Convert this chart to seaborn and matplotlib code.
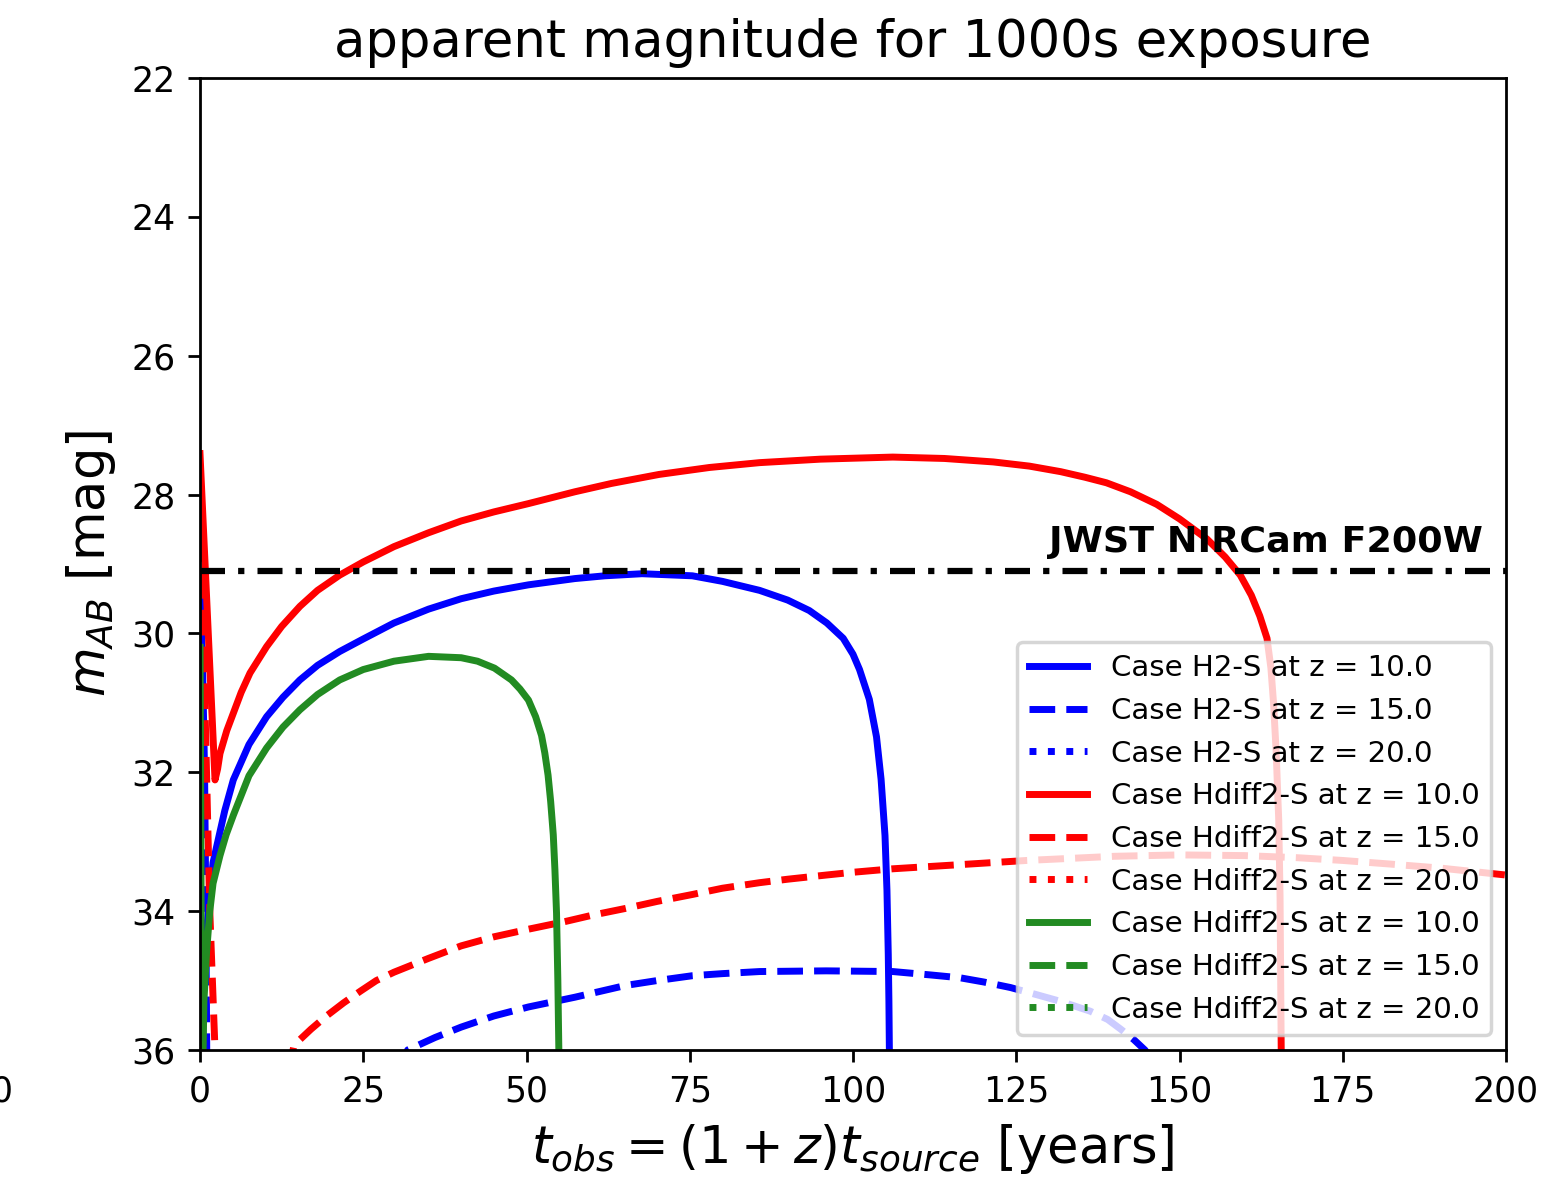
import matplotlib
matplotlib.use("Agg")
import matplotlib.pyplot as plt
import seaborn as sns

# ---------------- data ----------------
# Case H2-S, z = 10 (blue solid)
t_h2_z10 = [0.3, 0.6, 1.0, 1.5, 2.0, 2.55, 3.8, 5.1, 7.5, 10.2, 12.7, 15.3, 18.0, 21.4, 25.0,
            29.7, 35.0, 40.0, 45.0, 50.3, 57.4, 62.0, 67.7, 75.4, 80.0, 85.7, 90.0, 93.3, 96.0,
            98.5, 100.0, 101.0, 102.5, 103.6, 104.3, 104.9, 105.2, 105.4, 105.5, 105.6]
m_h2_z10 = [36.3, 34.9, 34.3, 33.75, 33.3, 33.07, 32.55, 32.11, 31.6, 31.2, 30.92, 30.67, 30.46,
            30.26, 30.08, 29.85, 29.65, 29.5, 29.39, 29.3, 29.21, 29.17, 29.14, 29.17, 29.25,
            29.38, 29.52, 29.67, 29.85, 30.07, 30.3, 30.52, 30.95, 31.49, 32.1, 32.91, 33.7,
            34.62, 35.3, 36.3]

# Case H2-S, z = 15 (blue dashed)
t_h2_z15 = [0.05, 0.4, 0.7, 0.9, 1.05, 3.0, 15.0, 28.0, 31.8, 36.0, 40.0, 45.0, 50.3, 57.4,
            65.2, 70.0, 75.4, 80.0, 85.7, 95.9, 106.1, 112.0, 116.4, 120.0, 124.1, 128.0, 131.8,
            136.3, 139.0, 141.0, 143.0, 144.7, 147.0]
m_h2_z15 = [29.4, 30.5, 32.0, 34.0, 36.3, 39.0, 40.0, 37.5, 36.0, 35.82, 35.67, 35.51, 35.38,
            35.24, 35.07, 35.0, 34.93, 34.9, 34.87, 34.86, 34.87, 34.92, 34.96, 35.02, 35.1, 35.2,
            35.3, 35.44, 35.56, 35.7, 35.85, 36.0, 36.3]

# Case H2-S, z = 20 (blue dotted) - below the plotted range
t_h2_z20 = [0.0, 0.3, 0.6]
m_h2_z20 = [36.5, 38.0, 40.0]

# Case Hdiff2-S, z = 10 (red solid)
t_hd_z10 = [0.0, 2.3, 2.7, 3.06, 4.1, 5.1, 6.3, 7.66, 10.2, 12.5, 15.3, 18.0, 21.4, 25.0, 29.7,
            35.0, 40.0, 45.0, 50.3, 57.4, 63.0, 70.3, 78.0, 85.7, 95.0, 106.1, 114.0, 121.5,
            127.0, 131.8, 135.5, 138.8, 142.5, 146.5, 150.0, 154.2, 157.0, 159.3, 161.0, 162.3,
            163.4, 164.0, 164.4, 164.8, 165.2, 165.4, 165.6]
m_hd_z10 = [27.41, 32.11, 31.95, 31.73, 31.4, 31.15, 30.85, 30.57, 30.19, 29.9, 29.61, 29.38,
            29.16, 28.97, 28.75, 28.55, 28.38, 28.25, 28.13, 27.96, 27.84, 27.71, 27.61, 27.54,
            27.49, 27.46, 27.48, 27.53, 27.59, 27.67, 27.75, 27.83, 27.96, 28.14, 28.35, 28.64,
            28.9, 29.16, 29.45, 29.75, 30.07, 30.5, 31.0, 31.7, 32.7, 33.8, 36.3]

# Case Hdiff2-S, z = 15 (red dashed)
t_hd_z15 = [0.05, 0.5, 1.0, 1.5, 2.3, 2.7, 6.0, 11.0, 14.4, 17.0, 19.5, 22.0, 24.6, 27.0, 29.7,
            35.0, 40.0, 45.0, 50.3, 55.9, 60.0, 65.2, 70.0, 75.4, 80.0, 85.7, 90.0, 95.9, 100.0,
            106.1, 116.4, 126.6, 140.0, 150.0, 160.0, 168.0, 175.0, 182.0, 190.0, 200.0]
m_hd_z15 = [28.6, 30.0, 32.0, 34.0, 36.0, 36.8, 38.5, 37.5, 35.93, 35.7, 35.5, 35.32, 35.15,
            35.0, 34.88, 34.68, 34.5, 34.37, 34.26, 34.15, 34.06, 33.96, 33.86, 33.76, 33.67,
            33.59, 33.54, 33.48, 33.44, 33.39, 33.33, 33.27, 33.21, 33.19, 33.2, 33.23, 33.27,
            33.32, 33.38, 33.48]

# Case Hdiff2-S, z = 20 (red dotted) - below the plotted range
t_hd_z20 = [0.0, 0.3, 0.6]
m_hd_z20 = [36.5, 38.0, 40.0]

# second Hdiff2-S set, z = 10 (green solid)
t_g_z10 = [0.02, 0.3, 0.6, 1.0, 1.5, 2.0, 3.06, 4.0, 5.1, 7.5, 10.2, 12.7, 15.3, 18.0, 21.4,
           25.0, 29.7, 35.0, 40.0, 42.5, 45.1, 47.7, 49.0, 50.3, 51.4, 52.3, 52.8, 53.3, 53.7,
           54.1, 54.35, 54.6, 54.8, 55.0]
m_g_z10 = [30.2, 37.0, 35.3, 34.6, 34.0, 33.6, 33.2, 32.9, 32.62, 32.05, 31.65, 31.35, 31.1,
           30.88, 30.67, 30.52, 30.4, 30.33, 30.35, 30.4, 30.5, 30.67, 30.8, 30.96, 31.2, 31.47,
           31.72, 32.04, 32.42, 32.9, 33.4, 34.03, 35.0, 36.3]

# green dashed, z = 15
t_g_z15 = [0.0, 0.15, 0.3]
m_g_z15 = [34.5, 35.8, 37.5]

# green dotted, z = 20
t_g_z20 = [0.0, 0.3, 0.6]
m_g_z20 = [36.5, 38.0, 40.0]

labels = ["Case H2-S at z = 10.0", "Case H2-S at z = 15.0", "Case H2-S at z = 20.0",
          "Case Hdiff2-S at z = 10.0", "Case Hdiff2-S at z = 15.0", "Case Hdiff2-S at z = 20.0",
          "Case Hdiff2-S at z = 10.0", "Case Hdiff2-S at z = 15.0", "Case Hdiff2-S at z = 20.0"]

jwst_limit = 29.1
x_ticks = [0, 25, 50, 75, 100, 125, 150, 175, 200]
y_ticks = [22, 24, 26, 28, 30, 32, 34, 36]

# ---------------- plot ----------------
DPI = 250
fig = plt.figure(figsize=(1562 / DPI, 1178 / DPI), dpi=DPI)
ax = fig.add_axes([200 / 1562, 128 / 1178, 1306 / 1562, 972 / 1178])

series = [
    (t_h2_z10, m_h2_z10, "blue", "-"),
    (t_h2_z15, m_h2_z15, "blue", "--"),
    (t_h2_z20, m_h2_z20, "blue", ":"),
    (t_hd_z10, m_hd_z10, "red", "-"),
    (t_hd_z15, m_hd_z15, "red", "--"),
    (t_hd_z20, m_hd_z20, "red", ":"),
    (t_g_z10, m_g_z10, "forestgreen", "-"),
    (t_g_z15, m_g_z15, "forestgreen", "--"),
    (t_g_z20, m_g_z20, "forestgreen", ":"),
]
for (t, m, c, ls), lab in zip(series, labels):
    sns.lineplot(x=t, y=m, color=c, linestyle=ls, linewidth=2, label=lab,
                 sort=False, estimator=None, ax=ax)

ax.axhline(jwst_limit, color="black", linewidth=1.8, linestyle=(0, (4, 2.1, 1, 2.1)))
ax.text(196.5, 28.83, "JWST NIRCam F200W", ha="right", va="baseline",
        fontsize=10.5, fontweight="bold")

ax.set_xlim(0, 200)
ax.set_ylim(36, 22)
ax.set_xticks(x_ticks)
ax.set_yticks(y_ticks)
ax.set_xlabel(r"$t_{obs} = (1+z)t_{source}$ [years]", fontsize=14.7)
ax.set_ylabel(r"$m_{AB}$ [mag]", fontsize=14.7)
ax.set_title("apparent magnitude for 1000s exposure", fontsize=14.75)
ax.legend(loc="lower right", fontsize=8.45)

# stray tick label at the far left edge of the figure
fig.text(2 / 1562, (1178 - 1074) / 1178, "0", ha="center", va="top", fontsize=10)

fig.savefig("out.png", dpi=DPI)
